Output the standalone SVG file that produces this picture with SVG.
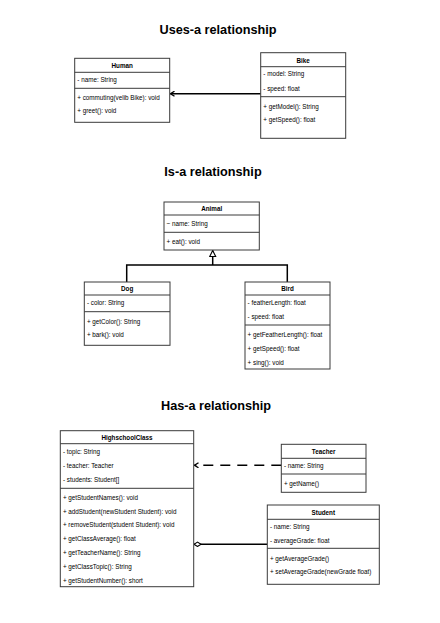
<svg xmlns="http://www.w3.org/2000/svg" width="440" height="623" viewBox="0 0 440 623">
<style>
.bg{fill:#ffffff}
.box{fill:#ffffff;stroke:#3a3a3a;stroke-width:1}
.div{stroke:#3a3a3a;stroke-width:1}
.title{font-family:"Liberation Sans",Arial,sans-serif;font-size:12.7px;font-weight:bold;fill:#000;text-anchor:middle;dominant-baseline:central}
.hd{font-family:"Liberation Sans",Arial,sans-serif;font-size:6.3px;font-weight:bold;fill:#000;text-anchor:middle;dominant-baseline:central}
.t{font-family:"Liberation Sans",Arial,sans-serif;font-size:6.3px;fill:#000;dominant-baseline:central}
.conn{fill:none;stroke:#000;stroke-width:1.5}
</style>
<defs>
<marker id="openArrow" markerWidth="6" markerHeight="6" refX="5" refY="3" orient="auto" markerUnits="userSpaceOnUse">
<path d="M1,0.5 L5,3 L1,5.5" fill="none" stroke="#000" stroke-width="1.3"/>
</marker>
<marker id="tri" markerWidth="8" markerHeight="8" refX="7" refY="4" orient="auto" markerUnits="userSpaceOnUse">
<path d="M1,1 L7,4 L1,7 Z" fill="#fff" stroke="#000" stroke-width="1.1"/>
</marker>
<marker id="diamond" markerWidth="8" markerHeight="6" refX="7.5" refY="3" orient="auto" markerUnits="userSpaceOnUse">
<path d="M0.5,3 L4,0.8 L7.5,3 L4,5.2 Z" fill="#fff" stroke="#000" stroke-width="1.1"/>
</marker>
</defs>
<rect class="bg" x="0" y="0" width="440" height="623"/>

<text class="title" x="218" y="30">Uses-a relationship</text>
<text class="title" x="213" y="172">Is-a relationship</text>
<text class="title" x="216" y="406">Has-a relationship</text>

<g id="connectors">
<line class="conn" x1="260.7" y1="93.7" x2="170.5" y2="93.7" marker-end="url(#openArrow)"/>
<polyline class="conn" points="126.7,282 126.7,265 287.3,265 287.3,282"/>
<line class="conn" x1="212.7" y1="265" x2="212.7" y2="250.5" marker-end="url(#tri)"/>
<line class="conn" x1="281.3" y1="465.3" x2="194.5" y2="465.3" stroke-dasharray="10,7" marker-end="url(#openArrow)"/>
<line class="conn" x1="267.3" y1="544.3" x2="194" y2="544.3" marker-end="url(#diamond)"/>
</g>

<g id="Human">
<rect class="box" x="74.7" y="58.3" width="95" height="64"/>
<line class="div" x1="74.7" y1="72.3" x2="169.7" y2="72.3"/>
<line class="div" x1="74.7" y1="88.3" x2="169.7" y2="88.3"/>
<text class="hd" x="122.2" y="65.6">Human</text>
<text class="t" x="77.3" y="79.3">- name: String</text>
<text class="t" x="77.3" y="97.7">+ commuting(velib Bike): void</text>
<text class="t" x="77.3" y="110.7">+ greet(): void</text>
</g>

<g id="Bike">
<rect class="box" x="260.7" y="52.7" width="85" height="85.6"/>
<line class="div" x1="260.7" y1="66.7" x2="345.7" y2="66.7"/>
<line class="div" x1="260.7" y1="96.7" x2="345.7" y2="96.7"/>
<text class="hd" x="303.2" y="60">Bike</text>
<text class="t" x="263.3" y="73.7">- model: String</text>
<text class="t" x="263.3" y="88.3">- speed: float</text>
<text class="t" x="263.3" y="106">+ getModel(): String</text>
<text class="t" x="263.3" y="119.3">+ getSpeed(): float</text>
</g>

<g id="Animal">
<rect class="box" x="164" y="202" width="95.3" height="48"/>
<line class="div" x1="164" y1="215" x2="259.3" y2="215"/>
<line class="div" x1="164" y1="232.3" x2="259.3" y2="232.3"/>
<text class="hd" x="211.7" y="208.8">Animal</text>
<text class="t" x="166.6" y="223">~ name: String</text>
<text class="t" x="166.6" y="241.3">+ eat(): void</text>
</g>

<g id="Dog">
<rect class="box" x="84.3" y="282" width="85.7" height="63.3"/>
<line class="div" x1="84.3" y1="295" x2="170" y2="295"/>
<line class="div" x1="84.3" y1="311.7" x2="170" y2="311.7"/>
<text class="hd" x="127.2" y="288.6">Dog</text>
<text class="t" x="86.9" y="302.7">- color: String</text>
<text class="t" x="86.9" y="321">+ getColor(): String</text>
<text class="t" x="86.9" y="334.3">+ bark(): void</text>
</g>

<g id="Bird">
<rect class="box" x="245" y="282" width="85" height="87"/>
<line class="div" x1="245" y1="295" x2="330" y2="295"/>
<line class="div" x1="245" y1="325" x2="330" y2="325"/>
<text class="hd" x="287.5" y="288.6">Bird</text>
<text class="t" x="247.6" y="302.7">- featherLength: float</text>
<text class="t" x="247.6" y="316.7">- speed: float</text>
<text class="t" x="247.6" y="334.7">+ getFeatherLength(): float</text>
<text class="t" x="247.6" y="348.3">+ getSpeed(): float</text>
<text class="t" x="247.6" y="362">+ sing(): void</text>
</g>

<g id="HighschoolClass">
<rect class="box" x="60.3" y="430.7" width="133.4" height="156"/>
<line class="div" x1="60.3" y1="443.7" x2="193.7" y2="443.7"/>
<line class="div" x1="60.3" y1="488.3" x2="193.7" y2="488.3"/>
<text class="hd" x="127" y="437.5">HighschoolClass</text>
<text class="t" x="62.9" y="451.7">- topic: String</text>
<text class="t" x="62.9" y="465.3">- teacher: Teacher</text>
<text class="t" x="62.9" y="479">- students: Student[]</text>
<text class="t" x="62.9" y="497">+ getStudentNames(): void</text>
<text class="t" x="62.9" y="511">+ addStudent(newStudent Student): void</text>
<text class="t" x="62.9" y="524.7">+ removeStudent(student Student): void</text>
<text class="t" x="62.9" y="538.7">+ getClassAverage(): float</text>
<text class="t" x="62.9" y="552.3">+ getTeacherName(): String</text>
<text class="t" x="62.9" y="566.3">+ getClassTopic(): String</text>
<text class="t" x="62.9" y="580">+ getStudentNumber(): short</text>
</g>

<g id="Teacher">
<rect class="box" x="281.3" y="444.3" width="84.7" height="48"/>
<line class="div" x1="281.3" y1="458.3" x2="366" y2="458.3"/>
<line class="div" x1="281.3" y1="474" x2="366" y2="474"/>
<text class="hd" x="323.7" y="451.3">Teacher</text>
<text class="t" x="283.9" y="465.3">- name: String</text>
<text class="t" x="283.9" y="483.8">+ getName()</text>
</g>

<g id="Student">
<rect class="box" x="267.3" y="505" width="112" height="79.3"/>
<line class="div" x1="267.3" y1="519.3" x2="379.3" y2="519.3"/>
<line class="div" x1="267.3" y1="548.3" x2="379.3" y2="548.3"/>
<text class="hd" x="323.3" y="512.3">Student</text>
<text class="t" x="269.9" y="526">- name: String</text>
<text class="t" x="269.9" y="540">- averageGrade: float</text>
<text class="t" x="269.9" y="558">+ getAverageGrade()</text>
<text class="t" x="269.9" y="571.3">+ setAverageGrade(newGrade float)</text>
</g>
</svg>
